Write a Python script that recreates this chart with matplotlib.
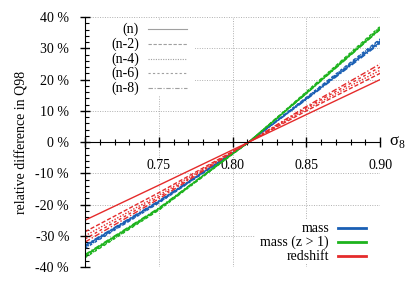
import matplotlib.pyplot as plt
from matplotlib.lines import Line2D
from matplotlib.patches import Rectangle
from matplotlib.ticker import MultipleLocator, FuncFormatter

plt.rcParams['font.family'] = ['Liberation Serif', 'DejaVu Serif']
plt.rcParams['font.size'] = 10

# sigma_8 sample points (curves cross zero at the fiducial value)
sigma8 = [0.70, 0.75, 0.80, 0.811, 0.85, 0.90]

iterations = ['(n)', '(n-2)', '(n-4)', '(n-6)', '(n-8)']
styles = ['-', (0, (3, 1.5)), (0, (1, 1.2)), (0, (2, 2)), (0, (4, 1.5, 1, 1.5))]

# relative difference in Q98 [%], one list per iteration
mass = [
    [-33.2, -19.0, -3.5, 0, 13.8, 32.0],
    [-33.5, -19.2, -3.5, 0, 14.0, 32.4],
    [-33.8, -19.4, -3.6, 0, 14.2, 32.8],
    [-34.0, -19.5, -3.6, 0, 14.3, 33.0],
    [-33.0, -18.8, -3.4, 0, 13.6, 31.6],
]
mass_z1 = [
    [-36.2, -21.3, -3.7, 0, 15.6, 36.2],
    [-36.5, -21.5, -3.8, 0, 15.8, 36.5],
    [-36.8, -21.7, -3.8, 0, 16.0, 36.8],
    [-37.0, -21.8, -3.9, 0, 16.1, 37.0],
    [-36.0, -21.1, -3.7, 0, 15.5, 36.0],
]
redshift = [
    [-25.0, -13.8, -2.5, 0, 8.8, 20.0],
    [-28.7, -16.2, -3.0, 0, 10.0, 22.0],
    [-30.0, -17.0, -3.1, 0, 10.5, 23.0],
    [-31.0, -17.6, -3.2, 0, 11.0, 24.0],
    [-32.0, -18.2, -3.3, 0, 11.4, 25.0],
]

series = [('mass', mass, '#1a5fb4'),
          ('mass (z > 1)', mass_z1, '#1db31d'),
          ('redshift', redshift, '#e52b2b')]

W, H = 407, 285
fig = plt.figure(figsize=(W / 100, H / 100), dpi=100)
ax = fig.add_axes([0.209, 0.063, 0.725, 0.877])

for name, data, col in series:
    for vals, ls in zip(data, styles):
        ax.plot(sigma8, vals, color=col, lw=1.0, linestyle=ls)

ax.set_xlim(0.70, 0.90)
ax.set_ylim(-40, 40)

ax.spines['top'].set_visible(False)
ax.spines['right'].set_visible(False)
ax.spines['bottom'].set_position(('data', 0))

ax.xaxis.set_major_locator(MultipleLocator(0.05))
ax.xaxis.set_minor_locator(MultipleLocator(0.01))
ax.yaxis.set_major_locator(MultipleLocator(10))
ax.yaxis.set_minor_locator(MultipleLocator(2))
ax.xaxis.set_major_formatter(FuncFormatter(lambda v, p: '' if v < 0.72 else '%.2f' % v))
ax.yaxis.set_major_formatter(FuncFormatter(lambda v, p: '%d %%' % round(v)))
ax.tick_params(which='major', direction='inout', length=7, width=1)
ax.tick_params(which='minor', direction='inout', length=4, width=0.8)
ax.tick_params(axis='x', pad=9)
ax.tick_params(axis='y', pad=8)
ax.tick_params(axis='y', which='minor', direction='in', length=3)

ax.grid(True, which='major', color='#b0b0b0', linestyle=(0, (1, 1.5)), lw=0.7)
ax.set_axisbelow(True)

ax.set_ylabel('relative difference in Q98')
ax.yaxis.set_label_coords(-0.19, 0.5)
# sigma_8 label as one text with a mathtext subscript on an upright sigma
ax.text(0.9062, 0, r'σ$_{\mathregular{8}}$', fontsize=12, va='center', ha='left')


# gnuplot-style keys: text right-aligned, sample line to its right (pixel positions)
def key(labels, handles, text_right, line_x0, line_x1, rows, box):
    bx0, by0, bx1, by1 = box
    fig.add_artist(Rectangle((bx0 / W, 1 - by1 / H), (bx1 - bx0) / W, (by1 - by0) / H,
                             transform=fig.transFigure, facecolor='white',
                             edgecolor='none', zorder=1))
    for lab, (col, lw, ls), py in zip(labels, handles, rows):
        fig.text(text_right / W, 1 - py / H, lab, ha='right', va='center', zorder=3)
        fig.add_artist(Line2D([line_x0 / W, line_x1 / W], [1 - py / H, 1 - py / H],
                              transform=fig.transFigure, color=col, lw=lw,
                              linestyle=ls, zorder=2))


key(iterations, [('#a0a0a0', 0.8, ls) for ls in styles],
    139, 148, 187, [29, 44, 59, 73, 88], (90, 20, 195, 96))
key([s[0] for s in series], [(c, 2.0, '-') for _, _, c in series],
    329, 338, 366, [228, 242, 256], (255, 220, 385, 263))

fig.savefig('out.png', dpi=100)
